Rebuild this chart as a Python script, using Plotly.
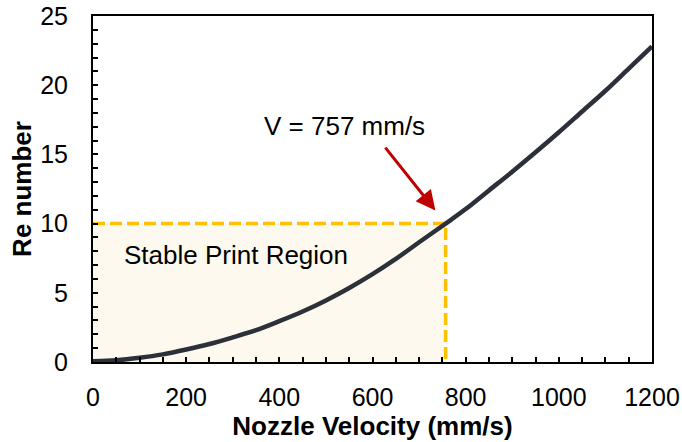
import plotly.graph_objects as go

# Data
velocity = [0, 50, 100, 150, 200, 250, 300, 350, 400, 450, 500, 550, 600, 650, 700, 757,
            800, 850, 900, 950, 1000, 1050, 1100, 1150, 1200]
re_number = [0.05, 0.12, 0.3, 0.55, 0.9, 1.3, 1.78, 2.3, 2.95, 3.65, 4.45, 5.35, 6.35, 7.45, 8.65, 10.0,
             11.05, 12.4, 13.75, 15.15, 16.6, 18.1, 19.6, 21.2, 22.8]
v_crit = 757
re_crit = 10
x_ticks = [0, 200, 400, 600, 800, 1000, 1200]
y_ticks = [0, 5, 10, 15, 20, 25]

FONT = "Liberation Sans, Arial, sans-serif"

fig = go.Figure()

# stable region fill
fig.add_shape(type="rect", x0=0, x1=v_crit, y0=0, y1=re_crit, xref="x", yref="y",
              fillcolor="#FEF9EE", line=dict(width=0), layer="below")

# dashed guide lines
fig.add_trace(go.Scatter(x=[0, v_crit, v_crit], y=[re_crit, re_crit, 0], mode="lines",
                         line=dict(color="#FFC000", width=3.5, dash="12px,5px"),
                         hoverinfo="skip", showlegend=False))

# curve
fig.add_trace(go.Scatter(x=velocity, y=re_number, mode="lines", line_shape="spline",
                         line=dict(color="#2c3038", width=4.5), showlegend=False))

fig.add_annotation(x=308, y=7.73, xref="x", yref="y", text="Stable Print Region",
                   showarrow=False, font=dict(family=FONT, size=26, color="#000000"))
fig.add_annotation(x=540, y=17.05, xref="x", yref="y", text="V = 757 mm/s",
                   showarrow=False, font=dict(family=FONT, size=26, color="#000000"))
fig.add_annotation(x=735, y=10.95, ax=625, ay=15.6, xref="x", yref="y", axref="x", ayref="y",
                   text="", showarrow=True, arrowhead=2, arrowsize=1.3, arrowwidth=3,
                   arrowcolor="#C00000")

axis_common = dict(showline=True, linecolor="black", linewidth=2, mirror=True, automargin=False,
                   showgrid=False, zeroline=False, ticks="inside", ticklen=5, tickwidth=2,
                   tickcolor="black", tickfont=dict(family=FONT, size=25, color="#000000"))

fig.update_xaxes(range=[0, 1200], tickvals=x_ticks, ticklabelstandoff=12,
                 minor=dict(dtick=50, tick0=0, ticks="inside", ticklen=5, tickwidth=2, tickcolor="black"),
                 title=dict(text="<b>Nozzle Velocity (mm/s)</b>", standoff=6,
                            font=dict(family=FONT, size=26, color="#000000")),
                 **axis_common)
fig.update_yaxes(range=[0, 25], tickvals=y_ticks, ticklabelstandoff=18,
                 minor=dict(dtick=1, tick0=0, ticks="inside", ticklen=5, tickwidth=2, tickcolor="black"),
                 title=dict(text="<b>Re number</b>", standoff=1,
                            font=dict(family=FONT, size=26, color="#000000")),
                 **axis_common)

fig.update_layout(width=682, height=442, margin=dict(l=93, r=30, t=16, b=80),
                  plot_bgcolor="white", paper_bgcolor="white", showlegend=False)

fig.write_html("out.html")
